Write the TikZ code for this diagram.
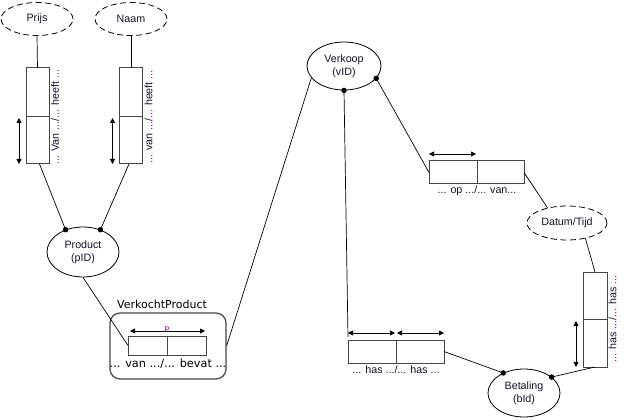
\documentclass[tikz,border=0pt]{standalone}
\usepackage{fontspec}
\setmainfont{Liberation Sans}
\newfontfamily\tahoma{DejaVu Sans}
\usetikzlibrary{shapes.geometric,arrows.meta}
\definecolor{txt}{RGB}{20,20,45}
\definecolor{dotc}{RGB}{128,0,128}
\definecolor{boxc}{RGB}{70,70,70}
\newcommand{\dd}{\textcolor{dotc}{...}}
\begin{document}
\begin{tikzpicture}[x=1pt,y=-1pt,
  ent/.style={ellipse,draw,line width=0.8pt,inner sep=0pt,align=center,font=\fontsize{10.7}{12.5}\selectfont,text=txt},
  attr/.style={ent,dash pattern=on 6pt off 3.5pt},
  cell/.style={draw=boxc,line width=1pt,inner sep=0pt,outer sep=0pt},
  dbl/.style={line width=0.8pt,{Triangle[length=5pt,width=5pt]}-{Triangle[length=5pt,width=5pt]}},
  conn/.style={line width=0.7pt},
  dotm/.style={fill,circle,inner sep=0pt,minimum size=5.5pt},
  lbl/.style={font=\fontsize{10.7}{12}\selectfont,text=txt,inner sep=0pt},
  tlbl/.style={font=\tahoma\fontsize{11}{12}\selectfont,text=black,inner sep=0pt}
]
\useasboundingbox[fill=white] (0,0) rectangle (625,420);

% attribute ellipses
\node[attr,minimum width=72pt,minimum height=33pt] (prijs) at (37,19) {Prijs};
\node[attr,minimum width=72pt,minimum height=33pt] (naam) at (131,19) {Naam};
\node[attr,minimum width=80pt,minimum height=34pt] (datum) at (567,223) {Datum/Tijd};

% entity ellipses
\node[ent,minimum width=72pt,minimum height=50pt] (product) at (83,252) {Product\\(pID)};
\node[ent,minimum width=74pt,minimum height=48pt] (verkoop) at (344,66) {Verkoop\\(vID)};
\node[ent,minimum width=72pt,minimum height=48pt] (betaling) at (524,393) {Betaling\\(bId)};

% vertical fact boxes (Prijs)
\node[cell,minimum width=23pt,minimum height=49pt] (p1t) at (37.5,92.5) {};
\node[cell,minimum width=23pt,minimum height=47pt,anchor=north] (p1b) at (p1t.south) {};
\node[lbl,rotate=90] (p1txt) at (55,117) {\dd{} Van \dd/\dd{} heeft \dd};
\draw[dbl] ([xshift=-7pt,yshift=-1pt]p1b.north west) -- ([xshift=-7pt]p1b.south west);

% vertical fact boxes (Naam)
\node[cell,minimum width=23pt,minimum height=49pt] (p2t) at (131,92.5) {};
\node[cell,minimum width=23pt,minimum height=47pt,anchor=north] (p2b) at (p2t.south) {};
\node[lbl,rotate=90] (p2txt) at (148.5,117) {\dd{} van \dd/\dd{} heeft \dd};
\draw[dbl] ([xshift=-7pt,yshift=-1pt]p2b.north west) -- ([xshift=-7pt]p2b.south west);

% VerkochtProduct
\node[draw=boxc,line width=1.2pt,rounded corners=10pt,minimum width=116pt,minimum height=66pt] (vp) at (168,346) {};
\node[tlbl,anchor=west] (vplbl) at (117,304) {VerkochtProduct};
\node[cell,minimum width=39pt,minimum height=19pt] (vpl) at (147.5,345.5) {};
\node[cell,minimum width=39pt,minimum height=19pt,anchor=west] (vpr) at (vpl.east) {};
\draw[dbl] ([xshift=2pt,yshift=5pt]vpl.north west) -- ([xshift=-1pt,yshift=5pt]vpr.north east);
\node[text=dotc,font=\fontsize{8}{8}\selectfont,inner sep=0pt] (pmark) at (167,330) {P};
\node[tlbl,font=\tahoma\fontsize{11.3}{12}\selectfont] (vptxt) at (168,363.5) {... van .../... bevat ...};

% op / van box
\node[cell,minimum width=48pt,minimum height=23pt] (opl) at (453,172.5) {};
\node[cell,minimum width=47pt,minimum height=23pt,anchor=west] (opr) at (opl.east) {};
\draw[dbl] ([yshift=7pt]opl.north west) -- ([xshift=-1pt,yshift=7pt]opl.north east);
\node[lbl] (optxt) at (477,191) {... op .../... van...};

% has / has box (horizontal)
\node[cell,minimum width=48pt,minimum height=23pt] (hl) at (372,351.5) {};
\node[cell,minimum width=48pt,minimum height=23pt,anchor=west] (hr) at (hl.east) {};
\draw[dbl] ([yshift=7pt]hl.north west) -- ([xshift=-1pt,yshift=7pt]hl.north east);
\draw[dbl] ([xshift=1pt,yshift=7pt]hr.north west) -- ([yshift=7pt]hr.north east);
\node[lbl] (htxt) at (396,370) {... has .../... has ...};

% has / has box (vertical)
\node[cell,minimum width=24pt,minimum height=47pt] (rt) at (595,295.5) {};
\node[cell,minimum width=24pt,minimum height=48pt,anchor=north] (rb) at (rt.south) {};
\node[lbl,rotate=90] (rtxt) at (612.5,319) {\dd{} has \dd/\dd{} has \dd};
\draw[dbl] ([xshift=-7pt,yshift=-2pt]rb.north west) -- ([xshift=-7pt]rb.south west);

% connectors
\draw[conn] (prijs.south) -- (p1t.north);
\draw[conn] (naam.south) -- (p2t.north);
\draw[conn] ([xshift=2pt]p1b.south) -- (product.128);
\draw[conn] ([xshift=-2pt]p2b.south) -- (product.52);
\node[dotm] (d1) at (product.128) {};
\node[dotm] (d2) at (product.52) {};
\draw[conn] (product.south) -- (vpl.west);
\draw[conn] (vp.east) -- (verkoop.200);
\draw[conn] (verkoop.south) -- ([yshift=3pt]hl.north west);
\node[dotm] (d3) at (verkoop.south) {};
\draw[conn] (verkoop.339) -- (opl.west);
\node[dotm] (d4) at (verkoop.339) {};
\draw[conn] (opr.east) -- (datum.142);
\draw[conn] (datum.320) -- (rt.north);
\draw[conn] (hr.east) -- (betaling.136);
\node[dotm] (d5) at (betaling.136) {};
\draw[conn] (rb.south) -- (betaling.30);
\node[dotm] (d6) at (betaling.30) {};
\end{tikzpicture}
\end{document}
